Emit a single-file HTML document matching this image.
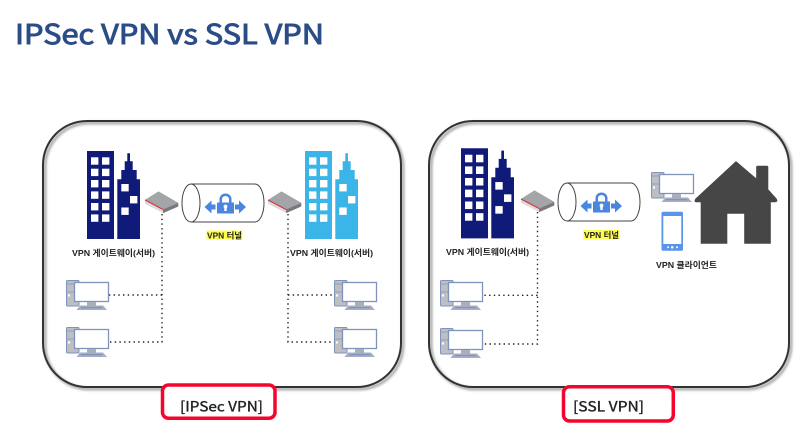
<!DOCTYPE html>
<html><head><meta charset="utf-8"><style>
html,body{margin:0;padding:0;background:#fff;width:811px;height:433px;overflow:hidden}
svg{display:block}
text{font-family:"Liberation Sans","Noto Sans CJK KR",sans-serif}
.r{font-family:"Noto Sans CJK KR","Liberation Sans",sans-serif;font-weight:400}
</style></head><body>
<svg width="811" height="433" viewBox="0 0 811 433" xmlns="http://www.w3.org/2000/svg">
<defs>
<filter id="bl" x="-5%" y="-5%" width="110%" height="110%"><feGaussianBlur stdDeviation="1.300"/></filter>
<g id="bld">
<path d="M0 0H27V88H0ZM30.300 88V28.300H34.300V19H37.700V10.300H40.300V2.300H43V10.300H45.700V19H49.700V28.300H53V88Z"/>
<g fill="#fff">
<rect x="4" y="6.300" width="7.400" height="7.400"/><rect x="15" y="6.300" width="7.400" height="7.400"/>
<rect x="4" y="17.700" width="7.400" height="7.400"/><rect x="15" y="17.700" width="7.400" height="7.400"/>
<rect x="4" y="29" width="7.400" height="7.400"/><rect x="15" y="29" width="7.400" height="7.400"/>
<rect x="4" y="40.400" width="7.400" height="7.400"/><rect x="15" y="40.400" width="7.400" height="7.400"/>
<rect x="4" y="52" width="7.400" height="7.400"/><rect x="15" y="52" width="7.400" height="7.400"/>
<rect x="4" y="63.400" width="7.400" height="7.400"/><rect x="15" y="63.400" width="7.400" height="7.400"/>
<rect x="34.300" y="33" width="7.400" height="7.400"/><rect x="43" y="45" width="7.400" height="7.400"/><rect x="34.300" y="56.500" width="7.400" height="7.400"/>
</g>
</g>
<g id="router">
<path d="M0 9L13.500 .5L33.300 12V15.500L18.500 22L0 12.500Z" fill="#77797c"/>
<path d="M0 9L13.500 .5L33.300 12L18 18.500Z" fill="#a4a5a8"/>
<path d="M0 9L18 18.500V22L0 12.500Z" fill="#dcdcdc"/>
<path d="M0 9L18 18.500" stroke="#d9343a" stroke-width="1.200" fill="none"/>
</g>
<g id="pc">
<rect x="0.500" y="0.500" width="12.500" height="25.500" rx="1" fill="#bdbfc3" stroke="#7f93bd" stroke-width="1"/>
<rect x="1" y="3.500" width="11" height="1" fill="#8fa0c4"/>
<rect x="1" y="11.500" width="11" height="1" fill="#8fa0c4"/>
<rect x="2" y="14.500" width="2" height="2" fill="#fff"/>
<rect x="8.500" y="2.500" width="34" height="19" fill="#fff" stroke="#7f93bd" stroke-width="1.300"/>
<rect x="21" y="22" width="9" height="4" fill="#a8b0c0"/>
<path d="M14 25.500H37L41 30H10.500Z" fill="#a5aec4"/>
<rect x="15" y="27" width="21" height="1.200" fill="#7f93bd"/>
</g>
<g id="tunnel">
<path d="M9 0H73A9 19 0 0 1 73 38H9" fill="#fff" stroke="#444" stroke-width="1"/>
<ellipse cx="9" cy="19" rx="9" ry="19" fill="#fff" stroke="#444" stroke-width="1"/>
<g fill="#4a86e0">
<path d="M22.500 23L29.500 16.500V20.500H33.500V25.500H29.500V29.500Z"/>
<path d="M64 23L57 16.500V20.500H53V25.500H57V29.500Z"/>
<rect x="35" y="18.500" width="17" height="11"/>
<path d="M37.500 19V15A6 5.500 0 0 1 49.500 15V19H47V15A3.500 3 0 0 0 40 15V19Z"/>
</g>
<rect x="42.300" y="22" width="2.400" height="5" fill="#fff"/>
<circle cx="43.500" cy="22.500" r="1.900" fill="#fff"/>
</g>
</defs>

<text class="r" x="15" y="44" font-size="27" fill="#2a4d87" stroke="#2a4d87" stroke-width="0.900" textLength="309" lengthAdjust="spacingAndGlyphs">IPSec VPN vs SSL VPN</text>

<rect x="43" y="121" width="358" height="266" rx="44" ry="44" fill="#fff"/>
<rect x="429" y="121" width="360" height="266" rx="44" ry="44" fill="#fff"/>
<g fill="none" stroke="#999" stroke-width="2.500" filter="url(#bl)">
<rect x="45" y="123" width="358" height="266" rx="44" ry="44"/>
<rect x="431" y="123" width="360" height="266" rx="44" ry="44"/>
</g>
<g fill="none" stroke="#333" stroke-width="2">
<rect x="43" y="121" width="358" height="266" rx="44" ry="44"/>
<rect x="429" y="121" width="360" height="266" rx="44" ry="44"/>
</g>

<use href="#bld" x="87" y="151" fill="#101a78"/>
<use href="#bld" x="305" y="151" fill="#3bb4e8"/>
<use href="#bld" transform="translate(461 148.300) scale(1 1.023)" fill="#101a78"/>

<g stroke="#222" stroke-width="1.400" stroke-dasharray="1.400 3.300" fill="none">
<path d="M162 214V342H109M162 295H109"/>
<path d="M288 214V342H335M288 295H335"/>
<path d="M537.500 212V344H483M537.500 295.300H483"/>
</g>

<use href="#router" x="145" y="191"/>
<use href="#router" x="268" y="191"/>
<use href="#router" x="521" y="190"/>

<use href="#tunnel" x="182" y="184"/>
<use href="#tunnel" x="558" y="183"/>

<use href="#pc" x="66" y="280"/>
<use href="#pc" x="66" y="327"/>
<use href="#pc" x="334" y="280"/>
<use href="#pc" x="334" y="327"/>
<use href="#pc" x="440" y="280"/>
<use href="#pc" x="440" y="328"/>
<use href="#pc" x="651" y="172"/>

<path d="M736 161.500L756.500 179V167Q756.500 166 757.500 166H767Q768 166 768 167V189.500L776.500 199Q778 202 775 202H770.500V243.500H744.500V213.500H727V243.500H701V202H696Q694 202 695.500 199Z" fill="#464646" stroke="#464646" stroke-width=".6" stroke-linejoin="round"/>

<rect x="661.500" y="211.700" width="21.500" height="39" rx="1.500" fill="#5b93ea"/>
<rect x="663.300" y="216" width="18" height="28" fill="#fff"/>
<g fill="#fff"><circle cx="668" cy="247.300" r="1"/><circle cx="672.200" cy="247.300" r="1.300"/><circle cx="677" cy="247.300" r="1"/></g>

<g font-size="8.500" font-weight="700" fill="#222">
<text x="72" y="256" textLength="83" lengthAdjust="spacingAndGlyphs">VPN 게이트웨이(서버)</text>
<text x="290" y="256" textLength="83" lengthAdjust="spacingAndGlyphs">VPN 게이트웨이(서버)</text>
<text x="446" y="255" textLength="83" lengthAdjust="spacingAndGlyphs">VPN 게이트웨이(서버)</text>
<text x="656" y="268" textLength="61" lengthAdjust="spacingAndGlyphs">VPN 클라이언트</text>
</g>
<rect x="206.500" y="230.500" width="36" height="9" fill="#fdfd50"/>
<rect x="583.300" y="230" width="36.500" height="9.300" fill="#fdfd50"/>
<g font-size="8.500" font-weight="700" fill="#222">
<text x="207" y="238.500" textLength="35" lengthAdjust="spacingAndGlyphs">VPN 터널</text>
<text x="584" y="238" textLength="35" lengthAdjust="spacingAndGlyphs">VPN 터널</text>
</g>

<rect x="162.500" y="385" width="112.500" height="33.300" rx="6" fill="#fff" stroke="#f5052d" stroke-width="3.500"/>
<rect x="563.500" y="386.700" width="109.800" height="34.300" rx="6" fill="#fff" stroke="#f5052d" stroke-width="3.500"/>
<g class="r" font-size="14" fill="#222" stroke="#222" stroke-width="0.350">
<text class="r" x="180" y="411.500" textLength="83" lengthAdjust="spacingAndGlyphs">[IPSec VPN]</text>
<text class="r" x="573" y="411.500" textLength="71" lengthAdjust="spacingAndGlyphs">[SSL VPN]</text>
</g>
</svg>
</body></html>
